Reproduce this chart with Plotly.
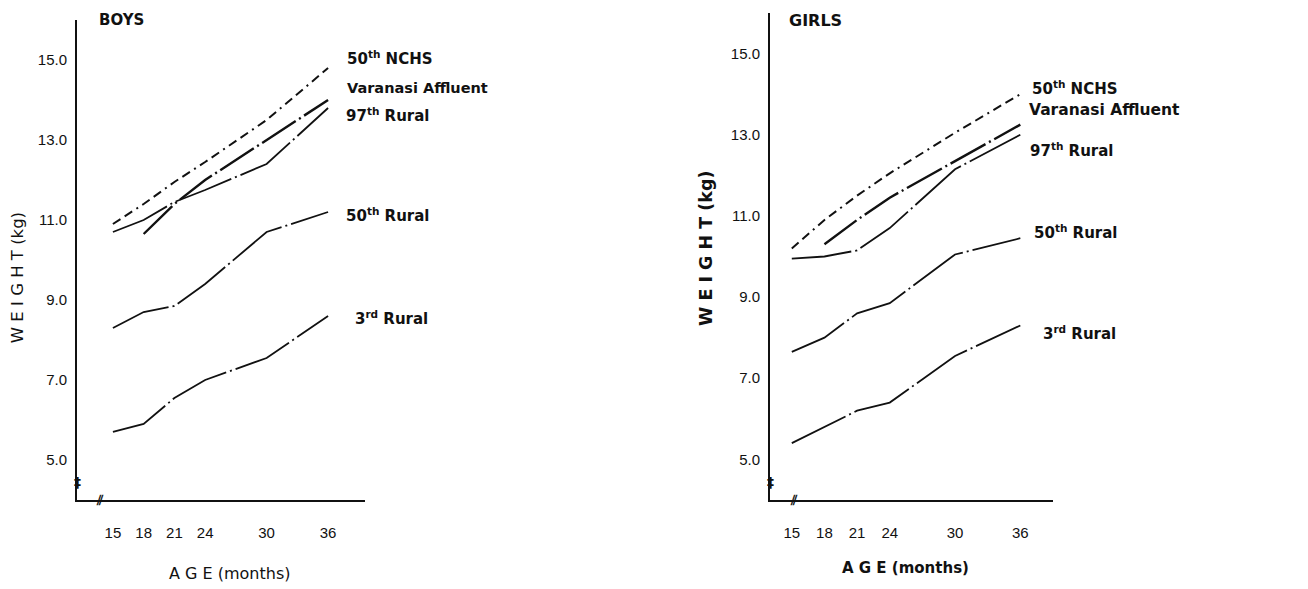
import plotly.graph_objects as go

# ---------------- data ----------------
months = [15, 18, 21, 24, 30, 36]
months_aff = [18, 21, 24, 30, 36]

boys_nchs50 = [10.9, 11.4, 11.95, 12.45, 13.5, 14.8]
boys_affluent = [10.65, 11.4, 12.0, 13.0, 14.0]
boys_rural97 = [10.7, 11.0, 11.45, 11.75, 12.4, 13.8]
boys_rural50 = [8.3, 8.7, 8.85, 9.4, 10.7, 11.2]
boys_rural3 = [5.7, 5.9, 6.55, 7.0, 7.55, 8.6]

girls_nchs50 = [10.2, 10.9, 11.5, 12.05, 13.05, 14.0]
girls_affluent = [10.3, 10.9, 11.45, 12.35, 13.25]
girls_rural97 = [9.95, 10.0, 10.15, 10.7, 12.15, 13.0]
girls_rural50 = [7.65, 8.0, 8.6, 8.85, 10.05, 10.45]
girls_rural3 = [5.4, 5.8, 6.2, 6.4, 7.55, 8.3]

x_ticks = [15, 18, 21, 24, 30, 36]
y_ticks = [5, 7, 9, 11, 13, 15]
y_ticklabels = ["5.0", "7.0", "9.0", "11.0", "13.0", "15.0"]

label_texts = ["50<sup>th</sup> NCHS", "Varanasi Affluent", "97<sup>th</sup> Rural",
               "50<sup>th</sup> Rural", "3<sup>rd</sup> Rural"]

# ---------------- figure ----------------
fig = go.Figure()
INK = "#111111"

def add_panel(xa, ya, nchs, aff, r97, r50, r3):
    common = dict(mode="lines", xaxis=xa, yaxis=ya, showlegend=False, hoverinfo="skip")
    fig.add_trace(go.Scatter(x=months, y=nchs,
                             line=dict(color=INK, width=2, dash="9px,5px,9px,5px,2px,5px"), **common))
    fig.add_trace(go.Scatter(x=months_aff, y=aff,
                             line=dict(color=INK, width=2.4, dash="40px,4px,2px,4px"), **common))
    for ser in (r97, r50, r3):
        fig.add_trace(go.Scatter(x=months, y=ser,
                                 line=dict(color=INK, width=1.8, dash="60px,4px,2px,4px"), **common))

add_panel("x", "y", boys_nchs50, boys_affluent, boys_rural97, boys_rural50, boys_rural3)
add_panel("x2", "y2", girls_nchs50, girls_affluent, girls_rural97, girls_rural50, girls_rural3)

tickfont = dict(family="Liberation Sans, Arial, sans-serif", size=15, color=INK)

def xaxis(domain, rng, anchor):
    return dict(domain=domain, range=rng, anchor=anchor, tickvals=x_ticks,
                ticktext=[str(t) for t in x_ticks], showline=True, linecolor=INK, linewidth=2,
                showgrid=False, zeroline=False, ticks="", tickfont=tickfont,
                ticklabelstandoff=18)

def yaxis(domain, anchor):
    return dict(domain=domain, range=[4, 16], anchor=anchor, tickvals=y_ticks,
                ticktext=y_ticklabels, showline=True, linecolor=INK, linewidth=2,
                showgrid=False, zeroline=False, ticks="", tickfont=tickfont,
                ticklabelstandoff=5)

fig.update_layout(
    width=1308, height=589,
    margin=dict(l=0, r=0, t=0, b=0),
    paper_bgcolor="white", plot_bgcolor="white",
    xaxis=xaxis([0.0528, 0.2729], [11.5, 39.6], "y"),
    yaxis=yaxis([0.1647, 0.9796], "x"),
    xaxis2=xaxis([0.5826, 0.7989], [13.0, 39.0], "y2"),
    yaxis2=yaxis([0.1647, 0.9915], "x2"),
)

lab_font = dict(family="DejaVu Sans, Verdana, sans-serif", size=15, color=INK)
aff_font = dict(family="DejaVu Sans, Verdana, sans-serif", size=14.5, color=INK)
aff_font_g = dict(family="DejaVu Sans, Verdana, sans-serif", size=15.5, color=INK)

boys_lab_pos = [(37.7, 15.05), (37.7, 14.3), (37.6, 13.62), (37.6, 11.12), (38.4, 8.55)]
girls_lab_pos = [(36.9, 14.14), (36.6, 13.6), (36.7, 12.62), (37.1, 10.6), (37.9, 8.12)]

for i, (txt, (lx, ly)) in enumerate(zip(label_texts, boys_lab_pos)):
    fig.add_annotation(x=lx, y=ly, xref="x", yref="y", text="<b>" + txt + "</b>",
                       showarrow=False, xanchor="left", yanchor="middle",
                       font=aff_font if i == 1 else lab_font)
for i, (txt, (lx, ly)) in enumerate(zip(label_texts, girls_lab_pos)):
    fig.add_annotation(x=lx, y=ly, xref="x2", yref="y2", text="<b>" + txt + "</b>",
                       showarrow=False, xanchor="left", yanchor="middle",
                       font=aff_font_g if i == 1 else lab_font)

fig.add_annotation(x=0.0864, y=0.9796, xref="paper", yref="paper", text="<b>BOYS</b>",
                   showarrow=False, xanchor="center", yanchor="middle",
                   font=dict(family="DejaVu Sans, Verdana, sans-serif", size=15, color=INK))
fig.add_annotation(x=0.617, y=0.9796, xref="paper", yref="paper", text="<b>GIRLS</b>",
                   showarrow=False, xanchor="center", yanchor="middle",
                   font=dict(family="DejaVu Sans, Verdana, sans-serif", size=16, color=INK))

fig.add_annotation(x=0.0078, y=0.5416, xref="paper", yref="paper", text="W E I G H T (kg)",
                   textangle=-90, showarrow=False, xanchor="center", yanchor="middle",
                   font=dict(family="DejaVu Sans, Verdana, sans-serif", size=16.5, color=INK))
fig.add_annotation(x=0.5336, y=0.5925, xref="paper", yref="paper", text="<b>W E I G H T (kg)</b>",
                   textangle=-90, showarrow=False, xanchor="center", yanchor="middle",
                   font=dict(family="DejaVu Sans, Verdana, sans-serif", size=17.5, color=INK))
fig.add_annotation(x=0.1697, y=0.0407, xref="paper", yref="paper", text="A G E (months)",
                   showarrow=False, xanchor="center", yanchor="middle",
                   font=dict(family="DejaVu Sans, Verdana, sans-serif", size=16, color=INK))
fig.add_annotation(x=0.6865, y=0.0492, xref="paper", yref="paper", text="<b>A G E (months)</b>",
                   showarrow=False, xanchor="center", yanchor="middle",
                   font=dict(family="DejaVu Sans, Verdana, sans-serif", size=15, color=INK))

# axis break marks
brk_font = dict(family="DejaVu Sans, sans-serif", size=14, color=INK)
for xr, yr, x0 in [("x", "y", 11.5), ("x2", "y2", 13.0)]:
    fig.add_annotation(x=x0, y=4.45, xref=xr, yref=yr, text="<b>‡</b>", showarrow=False,
                       xanchor="center", yanchor="middle", font=brk_font)
    fig.add_annotation(x=x0 + 2.2, y=4.0, xref=xr, yref=yr, text="<b>⫽</b>", showarrow=False,
                       xanchor="center", yanchor="middle", font=brk_font)

fig.write_html("out.html")
